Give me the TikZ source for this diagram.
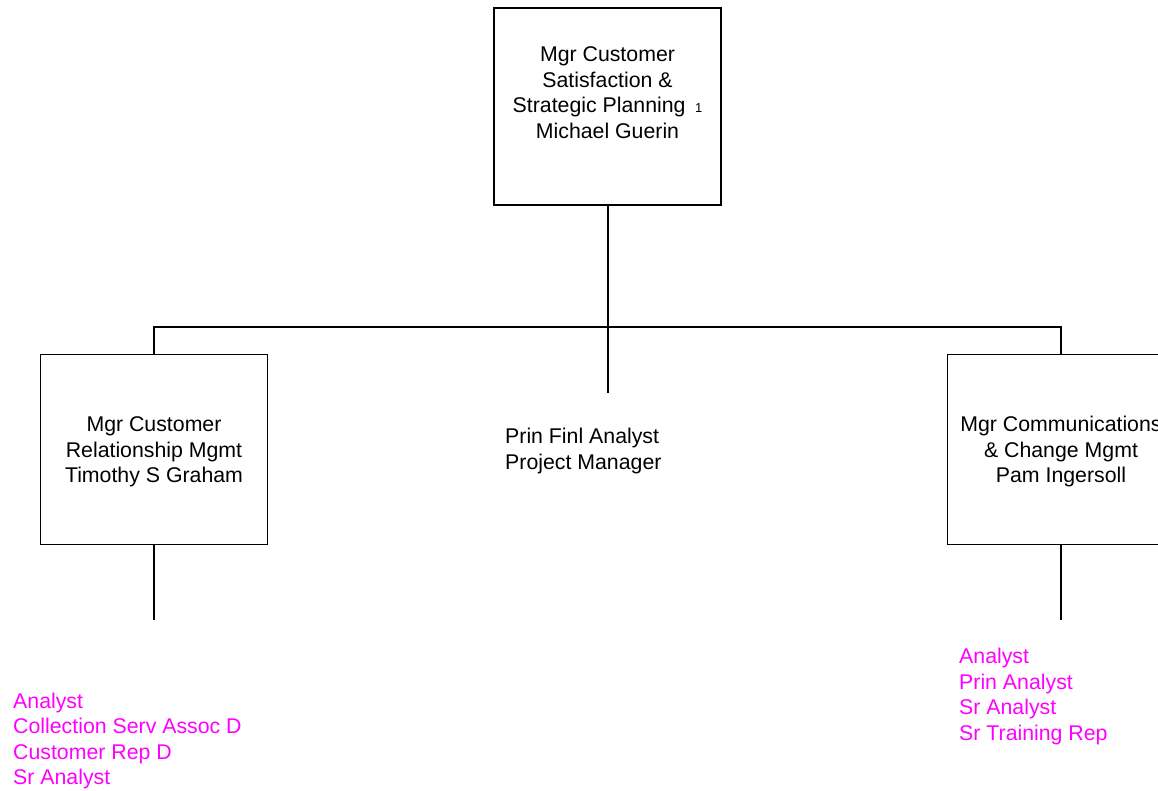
\documentclass[tikz,border=0pt]{standalone}
\usepackage{fontspec}
\setmainfont{Liberation Sans}
\definecolor{listmag}{HTML}{FF00FF}
\begin{document}
\begin{tikzpicture}[x=1pt,y=-1pt,
  lbl/.style={font=\fontsize{21.3}{25.6}\selectfont, align=center, inner sep=0pt},
  posbox/.style={draw, line width=1.6pt, minimum width=227pt, minimum height=190pt, inner sep=0pt},
  conn/.style={line width=1.8pt},
  plist/.style={font=\fontsize{21.3}{25.6}\selectfont, align=left, inner sep=0pt, text=listmag}]
\useasboundingbox (0,0) rectangle (1158,791);
\node[posbox, minimum height=197pt] (top) at (607.5,106.5) {};
\node[lbl] (topt) at (607.5,92.5) {Mgr Customer\\Satisfaction \&\\Strategic Planning \,{\fontsize{13}{15}\selectfont 1}\\Michael Guerin};
\node[posbox] (L) at (154,449.5) {};
\node[lbl] (Lt) at (154,452) {Mgr Customer\\Relationship Mgmt\\Timothy S Graham};
\node[posbox] (R) at (1061,449.5) {};
\node[lbl] (Rt) at (1061,451.5) {Mgr Communications\\\& Change Mgmt\\Pam Ingersoll};
\coordinate (bus) at (608,327);
\coordinate (mid) at (608,393);
\coordinate (Lend) at (154,620);
\coordinate (Rend) at (1061,620);
\node[lbl, align=left, anchor=base west] (pm) at (505,469.1) {Prin Finl Analyst\\Project Manager};
\draw[conn] (top.south -| bus) -- (bus);
\draw[conn] (L.north) |- (bus) -| (R.north);
\draw[conn] (bus) -- (mid);
\draw[conn] (L.south) -- (Lend);
\draw[conn] (R.south) -- (Rend);
\node[plist, anchor=base west] (Llist) at (13,784.8) {Analyst\\Collection Serv Assoc D\\Customer Rep D\\Sr Analyst};
\node[plist, anchor=base west] (Rlist) at (959,740.3) {Analyst\\Prin Analyst\\Sr Analyst\\Sr Training Rep};
\end{tikzpicture}
\end{document}
